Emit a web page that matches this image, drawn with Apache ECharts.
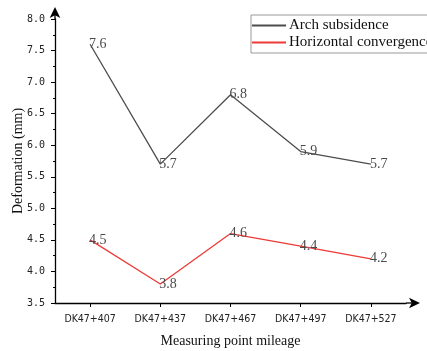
<!DOCTYPE html>
<html>
<head>
<meta charset="utf-8">
<script src="https://cdn.jsdelivr.net/npm/echarts@6/dist/echarts.min.js"></script>
<style>
  html, body { margin: 0; padding: 0; background: #fff; }
  #chart { width: 427px; height: 351px; }
</style>
</head>
<body>
<div id="chart"></div>
<script>
// Measuring points along the tunnel
const mileage = ['DK47+407', 'DK47+437', 'DK47+467', 'DK47+497', 'DK47+527'];
// Deformation in mm
const archSubsidence = [7.6, 5.7, 6.8, 5.9, 5.7];
const horizontalConvergence = [4.5, 3.8, 4.6, 4.4, 4.2];

const seriesNames = ['Arch subsidence', 'Horizontal convergence'];
const seriesColors = ['#4d4d4d', '#ee3a36'];

const serif = '"Liberation Serif", "Times New Roman", serif';
const tickFont = '"DejaVu Sans Condensed", "Liberation Sans Narrow", sans-serif';

const chart = echarts.init(document.getElementById('chart'));

function lineSeries(name, data, color) {
  return {
    name: name,
    type: 'line',
    data: data,
    symbol: 'circle',
    symbolSize: 2,
    showSymbol: true,
    itemStyle: { color: 'rgba(0,0,0,0)', borderWidth: 0 },
    lineStyle: { color: color, width: 1.3 },
    emphasis: { disabled: true },
    label: {
      show: true,
      position: 'right',
      distance: -2,
      fontFamily: serif,
      fontSize: 14,
      color: '#4a4a4a',
      formatter: p => p.value.toFixed(1)
    }
  };
}

chart.setOption({
  animation: false,
  backgroundColor: '#fff',
  grid: { left: 55, top: 19, right: 21, bottom: 48, containLabel: false, outerBoundsMode: 'none' },
  legend: {
    orient: 'vertical',
    left: 251,
    top: 15,
    padding: [3, 4, 3, 1],
    itemGap: 2,
    itemWidth: 34,
    itemHeight: 2,
    icon: 'rect',
    borderColor: '#999',
    borderWidth: 1,
    backgroundColor: '#fff',
    textStyle: { fontFamily: serif, fontSize: 15, color: '#111', padding: [0, 0, 0, -2] },
    data: seriesNames.map((n, i) => ({ name: n, itemStyle: { color: seriesColors[i] } }))
  },
  xAxis: {
    type: 'category',
    data: mileage,
    boundaryGap: true,
    name: 'Measuring point mileage',
    nameLocation: 'middle',
    nameGap: 31,
    nameMoveOverlap: false,
    nameTextStyle: { fontFamily: serif, fontSize: 14, color: '#111' },
    axisLine: {
      lineStyle: { color: '#000', width: 1.3 },
      symbol: ['none', 'arrow'],
      symbolSize: [8, 11],
      symbolOffset: [0, 14]
    },
    axisTick: { show: true, interval: 0, alignWithLabel: true, inside: false, length: 4, lineStyle: { color: '#000' } },
    axisLabel: { interval: 0, fontFamily: tickFont, fontSize: 10.5, color: '#222', margin: 11 },
    splitLine: { show: false }
  },
  yAxis: {
    type: 'value',
    min: 3.5,
    max: 8.0,
    interval: 0.5,
    name: 'Deformation (mm)',
    nameLocation: 'middle',
    nameGap: 30,
    nameMoveOverlap: false,
    nameRotate: 90,
    nameTextStyle: { fontFamily: serif, fontSize: 14, color: '#111' },
    axisLine: {
      show: true,
      lineStyle: { color: '#000', width: 1.3 },
      symbol: ['none', 'arrow'],
      symbolSize: [8, 11],
      symbolOffset: [0, 12]
    },
    axisTick: { show: true, inside: false, length: 4, lineStyle: { color: '#000' } },
    minorTick: { show: true, splitNumber: 2, length: 2, lineStyle: { color: '#000' } },
    axisLabel: {
      fontFamily: '"DejaVu Sans Mono", monospace',
      fontSize: 10,
      color: '#222',
      margin: 10,
      formatter: v => v.toFixed(1)
    },
    splitLine: { show: false }
  },
  series: [
    lineSeries(seriesNames[0], archSubsidence, seriesColors[0]),
    lineSeries(seriesNames[1], horizontalConvergence, seriesColors[1])
  ]
});

// Extend the axis lines out to their offset arrowheads
const gridRect = chart.getModel().getComponent('grid', 0).coordinateSystem.getRect();
chart.setOption({
  graphic: [
    {
      type: 'line',
      shape: { x1: gridRect.x + gridRect.width, y1: gridRect.y + gridRect.height, x2: gridRect.x + gridRect.width + 12, y2: gridRect.y + gridRect.height },
      style: { stroke: '#000', lineWidth: 1.3 },
      silent: true
    },
    {
      type: 'line',
      shape: { x1: gridRect.x, y1: gridRect.y, x2: gridRect.x, y2: gridRect.y - 10 },
      style: { stroke: '#000', lineWidth: 1.3 },
      silent: true
    }
  ]
});
</script>
</body>
</html>
